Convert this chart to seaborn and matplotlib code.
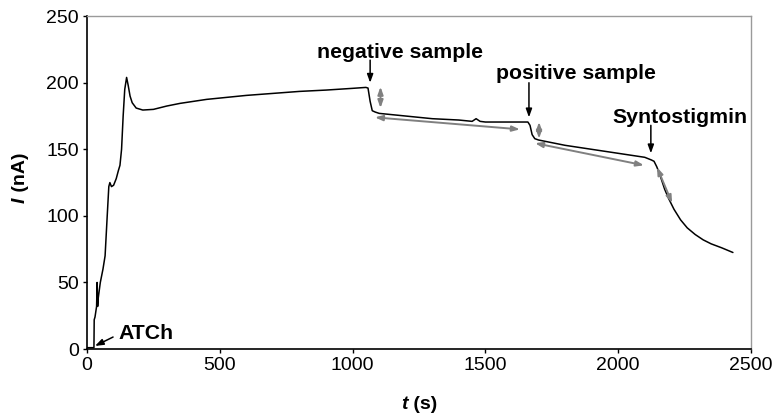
import numpy as np
import pandas as pd
import matplotlib
matplotlib.use("Agg")
import matplotlib.pyplot as plt
import seaborn as sns

# amperometric trace
time_s = [0, 26, 27, 30, 36, 38, 40, 42, 50, 60, 68, 76, 82, 86, 92, 100, 110, 118,
          124, 130, 136, 142, 149, 155, 162, 170, 185, 210, 250, 300, 350, 400, 450,
          500, 600, 700, 800, 900, 1000, 1050, 1058, 1066, 1074, 1085, 1100, 1200,
          1300, 1400, 1450, 1465, 1480, 1500, 1600, 1660, 1668, 1676, 1686, 1700,
          1800, 1900, 2000, 2100, 2125, 2135, 2145, 2155, 2165, 2175, 2190, 2210,
          2235, 2260, 2290, 2320, 2350, 2390, 2432]
current_nA = [1, 1, 22, 24, 32, 50, 32, 38, 50, 60, 70, 100, 122, 125, 122, 123, 128,
              134, 138, 150, 175, 195, 204, 198, 190, 185, 181, 179.5, 180, 182.5,
              184.5, 186, 187.5, 188.5, 190.5, 192, 193.5, 194.5, 195.8, 196.5, 196,
              186, 179, 178, 177, 175, 173, 172, 171, 173, 171, 170.5, 170.5, 170.5,
              168, 161, 158, 157, 153, 150, 147, 144, 142, 141, 137, 132, 126, 120,
              113, 105, 97, 91, 86, 82, 79, 76, 72.5]

labels = ["ATCh", "negative sample", "positive sample", "Syntostigmin"]
label_xy = [(117, 11.6), (1179, 222.6), (1841, 207), (2231, 174)]
pointer_from = [(98, 9), (1066, 217), (1664, 200), (2123, 168)]
pointer_to = [(30, 2.3), (1066, 200), (1664, 174), (2123, 147)]

# gray double-headed arrows (start, end)
span_start = [(1105, 197), (1084, 174), (1702, 170.6), (1687, 154.6), (2146, 136.6)]
span_end = [(1105, 181), (1630, 165), (1702, 158), (2097, 138), (2203, 109.6)]

df = pd.DataFrame({"t": time_s, "I": current_nA})

sns.set_style("ticks")
plt.rcParams["font.family"] = ["Liberation Sans", "DejaVu Sans"]
plt.rcParams["text.color"] = "black"
plt.rcParams["axes.labelcolor"] = "black"

fig, ax = plt.subplots(figsize=(7.75, 4.15), dpi=100)
fig.subplots_adjust(left=0.1123, right=0.969, bottom=0.159, top=0.961)

sns.lineplot(data=df, x="t", y="I", color="black", linewidth=1.1, ax=ax)

for txt, (x, y), p0, p1 in zip(labels, label_xy, pointer_from, pointer_to):
    ha = "left" if txt == "ATCh" else "center"
    ax.text(x, y, txt, ha=ha, va="center", fontsize=15.3, fontweight="bold")
    ax.annotate("", xy=p1, xytext=p0,
                arrowprops=dict(arrowstyle="-|>,head_length=0.5,head_width=0.18",
                                color="black", lw=1.1, shrinkA=0, shrinkB=0))

for p0, p1 in zip(span_start, span_end):
    ax.annotate("", xy=p1, xytext=p0,
                arrowprops=dict(arrowstyle="<|-|>,head_length=0.45,head_width=0.16",
                                color="#808080", lw=1.4, shrinkA=0, shrinkB=0))

ax.set_xlim(0, 2500)
ax.set_ylim(0, 250)
ax.set_xticks([0, 500, 1000, 1500, 2000, 2500])
ax.set_yticks([0, 50, 100, 150, 200, 250])
ax.tick_params(labelsize=14, length=3, width=1, colors="black", pad=3)

ax.set_xlabel("")
ax.set_ylabel("")
fig.text(0.526, 0.025, "t", fontsize=14, fontweight="bold", style="italic", ha="right", va="center")
fig.text(0.527, 0.025, " (s)", fontsize=14, fontweight="bold", ha="left", va="center")
fig.text(0.026, 0.525, "I", fontsize=14, fontweight="bold", style="italic", rotation=90, ha="center", va="top")
fig.text(0.026, 0.525, " (nA)", fontsize=14, fontweight="bold", rotation=90, ha="center", va="bottom")

for side in ["top", "right"]:
    ax.spines[side].set_visible(True)
    ax.spines[side].set_color("#9a9a9a")
    ax.spines[side].set_linewidth(1.0)
for side in ["left", "bottom"]:
    ax.spines[side].set_color("black")
    ax.spines[side].set_linewidth(1.2)

fig.savefig("out.png", dpi=100)
